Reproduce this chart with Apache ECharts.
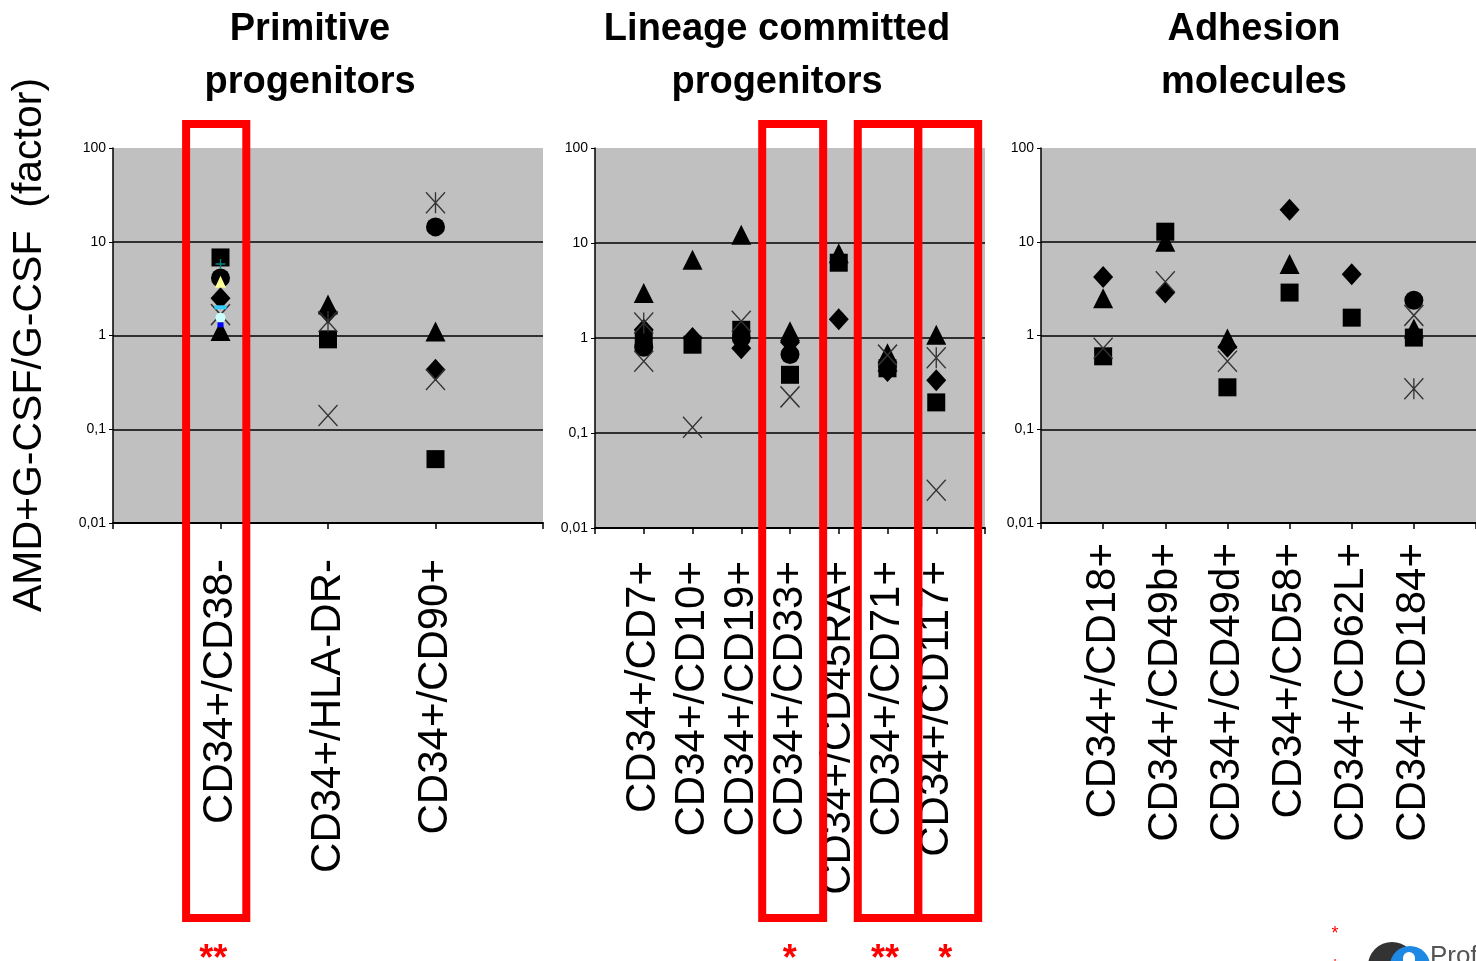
<!DOCTYPE html>
<html><head><meta charset="utf-8">
<script src="https://cdn.jsdelivr.net/npm/echarts@6/dist/echarts.min.js"></script>
<style>html,body{margin:0;padding:0;background:#fff}#c{width:1476px;height:961px}</style>
</head><body><div id="c"></div>
<script>
// ---------- data ----------
const panelTitles = ['Primitive\nprogenitors', 'Lineage committed\nprogenitors', 'Adhesion\nmolecules'];
const yAxisTitle = 'AMD+G-CSF/G-CSF  (factor)';
const yTickValues = [0.01, 0.1, 1, 10, 100];
const yTickLabels = ['0,01', '0,1', '1', '10', '100'];

const cats1 = ['CD34+/CD38-', 'CD34+/HLA-DR-', 'CD34+/CD90+'];
const cats2 = ['CD34+/CD7+', 'CD34+/CD10+', 'CD34+/CD19+', 'CD34+/CD33+', 'CD34+/CD45RA+', 'CD34+/CD71+', 'CD34+/CD117+'];
const cats3 = ['CD34+/CD18+', 'CD34+/CD49b+', 'CD34+/CD49d+', 'CD34+/CD58+', 'CD34+/CD62L+', 'CD34+/CD184+'];

// panel 1
const p1Diamond  = [2.5, 1.76, 0.43];
const p1Square   = [6.8, 0.91, 0.048];
const p1Triangle = [1.12, 2.14, 1.1];
const p1Cross    = [1.67, 0.14, 0.34];
const p1Star     = [null, 1.41, 26];
const p1Circle   = [4.1, null, 14.4];
const p1Plus     = [5.8, null, null];
const p1Yellow   = [3.75, null, null];
const p1CyanDash = [2.0, null, null];
const p1LightCyan= [1.55, null, null];
const p1Blue     = [1.3, null, null];
// panel 2
const p2Diamond  = [1.22, 1.0, 0.78, 0.9, 1.58, 0.45, 0.36];
const p2Square   = [1.0, 0.85, 1.22, 0.41, 6.2, 0.48, 0.21];
const p2Triangle = [2.98, 6.67, 12.2, 1.18, 7.8, 0.69, 1.08];
const p2Cross    = [0.57, 0.115, 1.5, 0.24, null, 0.66, 0.025];
const p2Star     = [1.44, null, null, null, null, null, 0.62];
const p2Circle   = [0.8, null, 1.0, 0.67, null, 0.5, null];
// panel 3
const p3Diamond  = [4.2, 2.87, 0.76, 22, 4.5, null];
const p3Square   = [0.6, 12.8, 0.28, 2.87, 1.55, 0.95];
const p3Triangle = [2.5, 10, 0.93, 5.8, null, 1.19];
const p3Cross    = [0.73, 3.75, 0.53, null, null, 1.64];
const p3Star     = [null, null, null, null, null, 0.27];
const p3Circle   = [null, null, null, null, null, 2.38];

// highlighted boxes: [panel, xFrom, xTo] in axis units, and significance marks
const boxRanges = [[0, 0.68, 1.24], [1, 3.43, 4.68], [1, 5.39, 6.63], [1, 6.63, 7.86]];
const boxStars = ['**', '*', '**', '*'];

// ---------- layout ----------
const FONT = '"Liberation Sans", Arial, sans-serif';
const grids = [
  {left: 113, top: 148, width: 430, height: 375, cats: cats1, margin: 36},
  {left: 595, top: 148, width: 390, height: 380, cats: cats2, margin: 33},
  {left: 1041, top: 148, width: 439, height: 375, cats: cats3, margin: 20}
];
const panelData = [
  {diamond: p1Diamond, square: p1Square, triangle: p1Triangle, cross: p1Cross, star: p1Star, circle: p1Circle},
  {diamond: p2Diamond, square: p2Square, triangle: p2Triangle, cross: p2Cross, star: p2Star, circle: p2Circle},
  {diamond: p3Diamond, square: p3Square, triangle: p3Triangle, cross: p3Cross, star: p3Star, circle: p3Circle}
];
const CROSS = 'path://M0,0L20,22M20,0L0,22';
const ASTER = 'path://M0,0L20,22M20,0L0,22M10,0L10,22';
const PLUS = 'path://M5,0L5,10M0,5L10,5';
const markerStyles = {
  diamond:  {symbol: 'diamond',  symbolSize: [20, 22], itemStyle: {color: '#000', opacity: 1}},
  square:   {symbol: 'rect',     symbolSize: 18,       itemStyle: {color: '#000', opacity: 1}},
  triangle: {symbol: 'triangle', symbolSize: [20, 20], itemStyle: {color: '#000', opacity: 1}},
  cross:    {symbol: CROSS, symbolSize: [19, 21], itemStyle: {color: 'none', borderColor: '#333', borderWidth: 1.4, opacity: 1}},
  star:     {symbol: ASTER, symbolSize: [19, 21], itemStyle: {color: 'none', borderColor: '#333', borderWidth: 1.4, opacity: 1}},
  circle:   {symbol: 'circle',   symbolSize: 19,       itemStyle: {color: '#000', opacity: 1}}
};
const order = ['diamond', 'triangle', 'circle', 'square', 'cross', 'star'];

function pts(vals) {
  const out = [];
  vals.forEach((v, j) => { if (v != null) out.push([j + 1, v]); });
  return out;
}

const gridOpt = [], xAxes = [], yAxes = [], series = [];
grids.forEach((g, i) => {
  gridOpt.push({left: g.left, top: g.top, width: g.width, height: g.height,
    show: true, backgroundColor: '#c0c0c0', borderWidth: 0});
  xAxes.push({
    type: 'value', gridIndex: i, min: 0, max: g.cats.length + 1, interval: 1,
    axisLine: {show: true, onZero: false, lineStyle: {color: '#000', width: 2}},
    axisTick: {show: true, length: 6, lineStyle: {color: '#000', width: 1.5}},
    splitLine: {show: false},
    axisLabel: {
      show: true, rotate: 90, margin: g.margin, fontSize: 42, fontFamily: FONT, color: '#000',
      formatter: v => (v >= 1 && v <= g.cats.length) ? g.cats[v - 1] : ''
    }
  });
  yAxes.push({
    type: 'log', logBase: 10, gridIndex: i, min: 0.01, max: 100,
    axisLine: {show: true, lineStyle: {color: '#000', width: 1.5}},
    axisTick: {show: true, length: 4, lineStyle: {color: '#000', width: 1}},
    splitLine: {show: true, showMinLine: false, showMaxLine: false, lineStyle: {color: '#000', width: 1.6}},
    axisLabel: {
      margin: 7, fontSize: 14, fontFamily: FONT, color: '#000',
      formatter: v => {
        const k = yTickValues.findIndex(t => Math.abs(Math.log10(t) - Math.log10(v)) < 1e-6);
        return k >= 0 ? yTickLabels[k] : '';
      }
    }
  });
  order.forEach(key => {
    const m = markerStyles[key];
    series.push(Object.assign({
      type: 'scatter', xAxisIndex: i, yAxisIndex: i, silent: true,
      data: pts(panelData[i][key])
    }, m));
  });
});
// extra coloured markers in first column
const extras = [
  {vals: p1Yellow,    symbol: 'triangle', symbolSize: [11, 12], itemStyle: {color: '#ffff99', opacity: 1}},
  {vals: p1LightCyan, symbol: 'circle',   symbolSize: 10,       itemStyle: {color: '#ccffff', opacity: 1}},
  {vals: p1CyanDash,  symbol: 'rect',     symbolSize: [12, 4],  itemStyle: {color: '#33ccff', opacity: 1}},
  {vals: p1Blue,      symbol: 'rect',     symbolSize: [6, 5],   itemStyle: {color: '#0000ff', opacity: 1}},
  {vals: p1Plus,      symbol: PLUS,       symbolSize: 10,       itemStyle: {color: 'none', borderColor: '#008080', borderWidth: 1.4, opacity: 1}}
];
extras.forEach(e => {
  series.push({type: 'scatter', xAxisIndex: 0, yAxisIndex: 0, silent: true, z: 3,
    data: pts(e.vals), symbol: e.symbol, symbolSize: e.symbolSize, itemStyle: e.itemStyle});
});

const titleCenters = [305, 772, 1249];
const titleOpt = panelTitles.map((t, i) => ({
  text: t, left: titleCenters[i], top: -2, textAlign: 'center',
  textStyle: {fontSize: 38, fontWeight: 'bold', fontFamily: FONT, color: '#000', lineHeight: 53}
}));

const chart = echarts.init(document.getElementById('c'), null, {renderer: 'canvas'});
chart.setOption({
  animation: false,
  backgroundColor: '#fff',
  title: titleOpt,
  grid: gridOpt, xAxis: xAxes, yAxis: yAxes, series: series
});

// annotations positioned through the axes
const graphics = [{
  type: 'text', x: 30, y: 345, rotation: Math.PI / 2, z: 10,
  style: {text: yAxisTitle, fontSize: 41, fontFamily: FONT, fill: '#000', align: 'center', verticalAlign: 'middle'}
}];
boxRanges.forEach((b, k) => {
  const x0 = chart.convertToPixel({xAxisIndex: b[0]}, b[1]);
  const x1 = chart.convertToPixel({xAxisIndex: b[0]}, b[2]);
  graphics.push({type: 'rect', z: 20,
    shape: {x: x0, y: 124, width: x1 - x0, height: 918 - 124},
    style: {fill: 'none', stroke: '#ff0000', lineWidth: 8}});
  graphics.push({type: 'text', z: 20, x: (x0 + x1) / 2 - 3, y: 960,
    style: {text: boxStars[k], fontSize: 36, fontWeight: 'bold', fontFamily: FONT, fill: '#ff0000', align: 'center', verticalAlign: 'middle'}});
});
graphics.push({type: 'text', z: 20, x: 1335, y: 934,
  style: {text: '*', fontSize: 18, fontFamily: FONT, fill: '#ff0000', align: 'center', verticalAlign: 'middle'}});
graphics.push({type: 'text', z: 20, x: 1335, y: 967,
  style: {text: '*', fontSize: 18, fontFamily: FONT, fill: '#ff0000', align: 'center', verticalAlign: 'middle'}});
// watermark
graphics.push({type: 'circle', z: 20, shape: {cx: 1392, cy: 966, r: 24}, style: {fill: '#333'}});
graphics.push({type: 'circle', z: 21, shape: {cx: 1410, cy: 966, r: 20}, style: {fill: '#1e88e5'}});
graphics.push({type: 'rect', z: 22, shape: {x: 1403, y: 952, width: 12, height: 14, r: 6}, style: {fill: '#fff'}});
graphics.push({type: 'text', z: 22, x: 1430, y: 944,
  style: {text: 'Prof', fontSize: 26, fontFamily: FONT, fill: '#555'}});
chart.setOption({graphic: graphics});
</script></body></html>
